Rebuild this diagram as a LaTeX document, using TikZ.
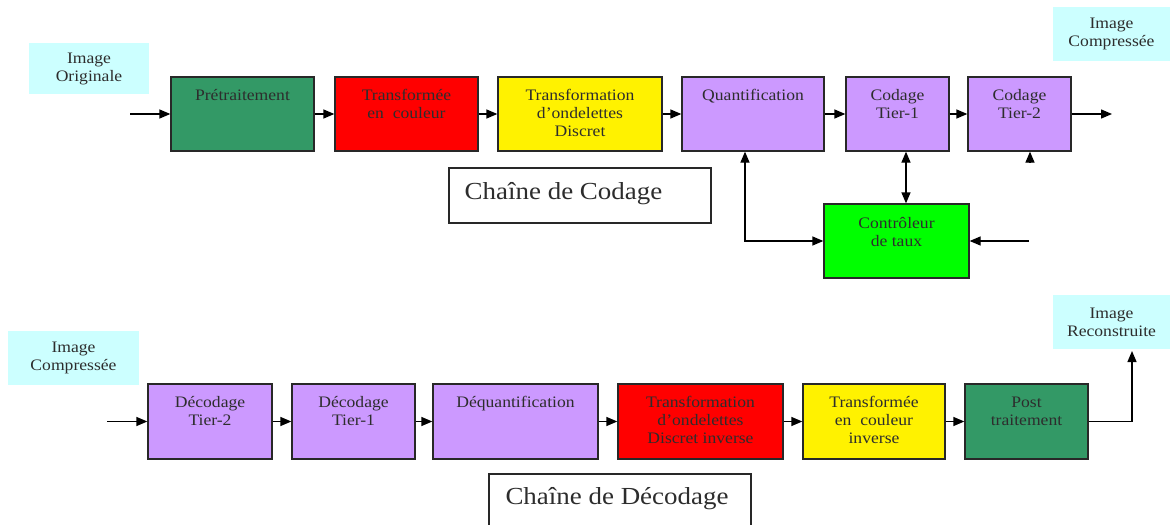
\documentclass[tikz,border=0pt]{standalone}
\usepackage{fontspec}
\setmainfont[FakeStretch=1.1]{Liberation Serif}
\usetikzlibrary{arrows.meta,calc}
\definecolor{dkgreen}{RGB}{51,153,102}
\definecolor{purp}{RGB}{204,153,255}
\definecolor{cyanl}{RGB}{204,255,255}
\definecolor{txtc}{RGB}{45,45,45}
\definecolor{brd}{RGB}{40,40,40}
\begin{document}
\begin{tikzpicture}[x=1pt,y=-1pt,
  blk/.style={draw=brd, line width=1.3pt, rectangle, inner sep=0pt},
  txt/.style={anchor=north, inner sep=0pt, align=center, text=txtc, font=\fontsize{16}{18}\selectfont},
  lbl/.style={fill=cyanl, inner sep=0pt, align=center, text=txtc, font=\fontsize{16}{18}\selectfont},
  ttl/.style={anchor=base, inner sep=0pt, text=txtc, font=\fontsize{24.5}{28}\selectfont},
  arr/.style={-{Triangle[length=11pt,width=9pt]}, line width=1.3pt, black},
  darr/.style={{Triangle[length=11pt,width=9pt]}-{Triangle[length=11pt,width=9pt]}, line width=1.3pt, black}]
\useasboundingbox (0,0) rectangle (1171,525);

% ---------- labels ----------
\node[lbl, minimum width=120pt, minimum height=51pt] (orig) at (89,68.5) {Image\\Originale};
\node[lbl, minimum width=117pt, minimum height=54pt] (comp1) at (1111.5,34) {Image\\Compressée};
\node[lbl, minimum width=131pt, minimum height=54pt] (comp2) at (73.5,358) {Image\\Compressée};
\node[lbl, minimum width=117pt, minimum height=54pt] (rec) at (1111.5,322) {Image\\Reconstruite};

% ---------- top row ----------
\node[blk, fill=dkgreen, minimum width=143pt, minimum height=74pt] (pre) at (242.5,114) {};
\node[blk, fill=red, minimum width=143pt, minimum height=74pt] (tc) at (406.5,114) {};
\node[blk, fill=yellow, minimum width=164pt, minimum height=74pt] (tod) at (580,114) {};
\node[blk, fill=purp, minimum width=142pt, minimum height=74pt] (quant) at (753,114) {};
\node[blk, fill=purp, minimum width=103pt, minimum height=74pt] (ct1) at (897.5,114) {};
\node[blk, fill=purp, minimum width=103pt, minimum height=74pt] (ct2) at (1019.5,114) {};
\node[blk, fill=green, minimum width=145pt, minimum height=74pt] (ctrl) at (896.5,241) {};

\node[txt] (preT) at ([yshift=-11pt]pre.north) {\strut Prétraitement};
\node[txt] (tcT) at ([yshift=-11pt]tc.north) {\strut Transformée\\en \ couleur};
\node[txt] (todT) at ([yshift=-11pt]tod.north) {\strut Transformation\\d’ondelettes\\Discret};
\node[txt] (quantT) at ([yshift=-11pt]quant.north) {\strut Quantification};
\node[txt] (ct1T) at ([yshift=-11pt]ct1.north) {\strut Codage\\Tier-1};
\node[txt] (ct2T) at ([yshift=-11pt]ct2.north) {\strut Codage\\Tier-2};
\node[txt] (ctrlT) at ([yshift=-12pt]ctrl.north) {\strut Contrôleur\\de taux};

\node[blk, minimum width=262pt, minimum height=55pt] (cc) at (580,195.5) {};
\node[ttl] (ccT) at (563.5,199) {Chaîne de Codage};

% ---------- top connectors ----------
\coordinate (in1) at (130,114);
\coordinate (out1) at (1112,114);
\draw[arr] (in1) -- (pre.west);
\draw[arr] (pre) -- (tc);
\draw[arr] (tc) -- (tod);
\draw[arr] (tod) -- (quant);
\draw[arr] (quant) -- (ct1);
\draw[arr] (ct1) -- (ct2);
\draw[arr] (ct2.east) -- (out1);
\coordinate (a1) at ([xshift=8.5pt]ct1.south);
\coordinate (a2) at ([xshift=9.5pt]ctrl.north);
\draw[darr] (a1) -- (a2);
\coordinate (q1) at ([xshift=-8pt]quant.south);
\draw[darr] (q1) |- (ctrl.west);
\coordinate (rin) at (1029,241);
\draw[arr] (rin) -- (ctrl.east);
\coordinate (t2a) at (1030,162);
\draw[arr] (t2a) -- (t2a |- ct2.south);

% ---------- bottom row ----------
\node[blk, fill=purp, minimum width=124pt, minimum height=75pt] (dt2) at (210,421.5) {};
\node[blk, fill=purp, minimum width=123pt, minimum height=75pt] (dt1) at (353.5,421.5) {};
\node[blk, fill=purp, minimum width=165pt, minimum height=75pt] (deq) at (515.5,421.5) {};
\node[blk, fill=red, minimum width=165pt, minimum height=75pt] (todi) at (700.5,421.5) {};
\node[blk, fill=yellow, minimum width=142pt, minimum height=75pt] (tci) at (874,421.5) {};
\node[blk, fill=dkgreen, minimum width=123pt, minimum height=75pt] (post) at (1026.5,421.5) {};

\node[txt] (dt2T) at ([yshift=-11pt]dt2.north) {\strut Décodage\\Tier-2};
\node[txt] (dt1T) at ([yshift=-11pt]dt1.north) {\strut Décodage\\Tier-1};
\node[txt] (deqT) at ([yshift=-11pt]deq.north) {\strut Déquantification};
\node[txt] (todiT) at ([yshift=-11pt]todi.north) {\strut Transformation\\d’ondelettes\\Discret inverse};
\node[txt] (tciT) at ([yshift=-11pt]tci.north) {\strut Transformée\\en \ couleur\\inverse};
\node[txt] (postT) at ([yshift=-11pt]post.north) {\strut Post\\traitement};

\node[blk, minimum width=262pt, minimum height=64pt] (cd) at (620,506) {};
\node[ttl] (cdT) at (617,504) {Chaîne de Décodage};

% ---------- bottom connectors ----------
\coordinate (in2) at (107,421.5);
\coordinate (up) at (1132,351);
\draw[arr] (in2) -- (dt2.west);
\draw[arr] (dt2) -- (dt1);
\draw[arr] (dt1) -- (deq);
\draw[arr] (deq) -- (todi);
\draw[arr] (todi) -- (tci);
\draw[arr] (tci) -- (post);
\draw[arr] (post.east) -| (up);
\end{tikzpicture}
\end{document}
